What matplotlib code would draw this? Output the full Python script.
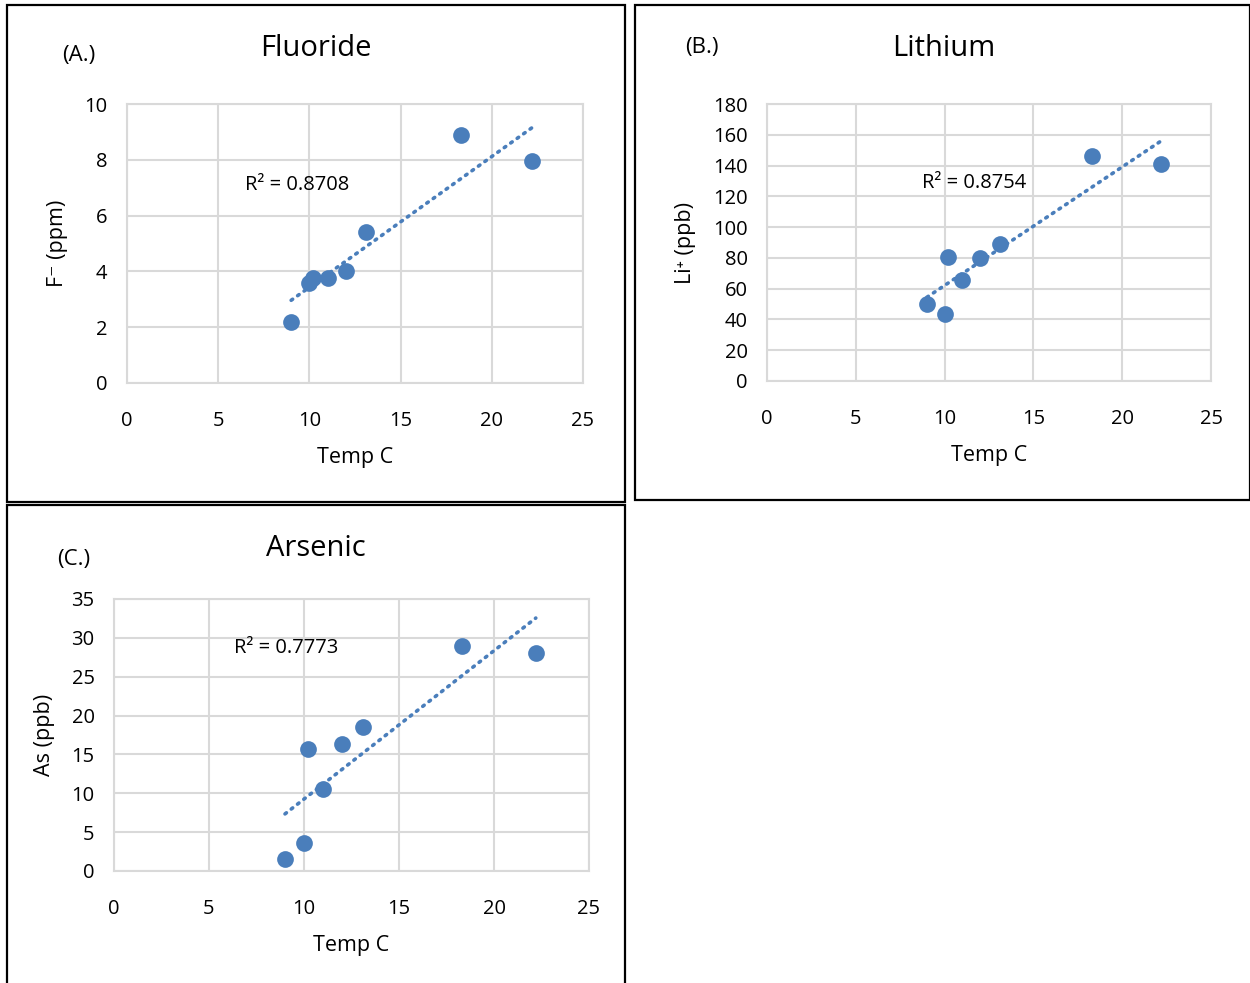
import numpy as np
import matplotlib
matplotlib.use("Agg")
import matplotlib.pyplot as plt
from matplotlib.patches import Rectangle

plt.rcParams['font.family'] = ['Open Sans', 'DejaVu Sans']

# data
temp_f = [9.0, 10.0, 10.2, 11.0, 12.0, 13.1, 18.3, 22.2]
fluoride = [2.2, 3.6, 3.75, 3.75, 4.0, 5.4, 8.9, 7.95]
r2_f = "R² = 0.8708"

temp_li = [9.0, 10.0, 10.2, 11.0, 12.0, 13.1, 18.3, 22.2]
lithium = [50, 43.5, 80.5, 65.5, 80, 89, 146, 141]
r2_li = "R² = 0.8754"

temp_as = [9.0, 10.0, 10.2, 11.0, 12.0, 13.1, 18.3, 22.2]
arsenic = [1.6, 3.6, 15.7, 10.6, 16.3, 18.5, 29.0, 28.0]
r2_as = "R² = 0.7773"

W, H = 1250, 983
BLUE = '#4a7ebb'
GRID = '#d9d9d9'


def box(x0, y0, x1, y1):
    return [x0 / W, 1 - y1 / H, (x1 - x0) / W, (y1 - y0) / H]


def panel(fig, rect, xs, ys, ymax, ystep, title, ylabel, r2_text, r2_pos, tag, tag_pos, title_pos):
    ax = fig.add_axes(box(*rect))
    ax.scatter(xs, ys, s=145, color=BLUE, zorder=3, linewidths=0)
    # linear trendline, as Excel draws it
    m, b = np.polyfit(xs, ys, 1)
    xl = np.array([min(xs), max(xs)])
    ax.plot(xl, m * xl + b, color=BLUE, lw=2.6, linestyle=(0, (0.5, 1.7)),
            dash_capstyle='round', zorder=2)
    ax.text(r2_pos[0], r2_pos[1], r2_text, fontsize=14.5, ha='left', va='center')

    ax.set_xlim(0, 25)
    ax.set_ylim(0, ymax)
    ax.set_xticks(range(0, 26, 5))
    ax.set_yticks(np.arange(0, ymax + 0.1, ystep))
    ax.grid(True, color=GRID, lw=1.5)
    ax.set_axisbelow(True)
    ax.tick_params(length=0, labelsize=14.5)
    ax.tick_params(axis='x', pad=20)
    ax.tick_params(axis='y', pad=14)
    for s in ax.spines.values():
        s.set_color(GRID)
        s.set_linewidth(1.5)
    ax.set_xlabel("Temp C", fontsize=15.5, labelpad=12)
    ax.set_ylabel(ylabel, fontsize=15.5, labelpad=12)

    fig.text(title_pos[0] / W, 1 - title_pos[1] / H, title, fontsize=21,
             ha='center', va='center')
    fig.text(tag_pos[0] / W, 1 - tag_pos[1] / H, tag, fontsize=16,
             ha='center', va='center')
    return ax


fig = plt.figure(figsize=(12.5, 9.83), dpi=100)

# panel frames
for x0, y0, x1, y1 in [(7, 5, 625, 502), (635, 5, 1250, 500), (7, 505, 625, 990)]:
    fig.add_artist(Rectangle((x0 / W, 1 - y1 / H), (x1 - x0) / W, (y1 - y0) / H,
                             transform=fig.transFigure, fill=False,
                             edgecolor='black', lw=1.6))

panel(fig, (127, 104, 583, 383), temp_f, fluoride, 10, 2, "Fluoride", "F⁻ (ppm)",
      r2_f, (6.45, 7.1), "(A.)", (79, 55), (316, 49))
panel(fig, (767, 104, 1211, 381), temp_li, lithium, 180, 20, "Lithium", "Li⁺ (ppb)",
      r2_li, (8.75, 128.5), "(B.)", (702, 47), (944, 49))
panel(fig, (114, 599, 589, 871), temp_as, arsenic, 35, 5, "Arsenic", "As (ppb)",
      r2_as, (6.3, 28.7), "(C.)", (74, 560), (316, 549))

fig.savefig("out.png", dpi=100)
